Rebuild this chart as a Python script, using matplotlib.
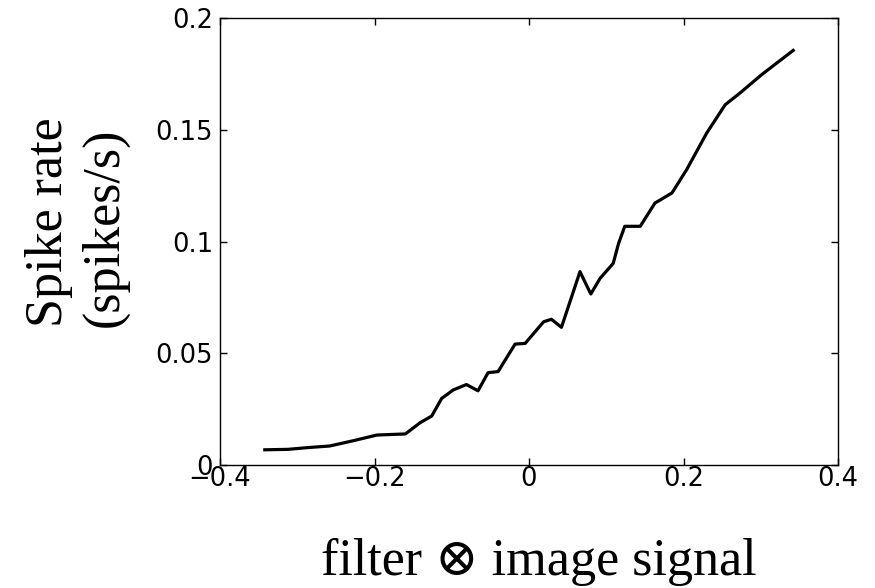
import numpy as np
import matplotlib.pyplot as plt

# wartości
x = [-0.342, -0.312, -0.286, -0.258, -0.227, -0.197, -0.160, -0.141, -0.126,
     -0.113, -0.098, -0.081, -0.066, -0.053, -0.040, -0.018, -0.005, 0.019,
     0.029, 0.042, 0.066, 0.080, 0.092, 0.109, 0.116, 0.124, 0.144, 0.163,
     0.185, 0.204, 0.230, 0.254, 0.273, 0.301, 0.342]
rate = [0.0068, 0.0070, 0.0078, 0.0085, 0.0109, 0.0134, 0.0139, 0.0189, 0.0219,
        0.0298, 0.0336, 0.0360, 0.0332, 0.0413, 0.0418, 0.0541, 0.0544, 0.0641,
        0.0652, 0.0616, 0.0865, 0.0765, 0.0835, 0.0902, 0.0992, 0.1068, 0.1068,
        0.1172, 0.1217, 0.1321, 0.1485, 0.1612, 0.1664, 0.1746, 0.1855]

xticks = [-0.4, -0.2, 0, 0.2, 0.4]
yticks = [0, 0.05, 0.1, 0.15, 0.2]

fig = plt.figure(figsize=(8.75, 5.88), dpi=100)
ax = fig.add_axes([220/875, 1 - 465/588, 618/875, 447/588])

ax.plot(x, rate, color='black', linewidth=2.3)
ax.set_xlim(-0.4, 0.4)
ax.set_ylim(0, 0.2)
ax.set_xticks(xticks)
ax.set_yticks(yticks)
ax.set_xticklabels(['\u22120.4', '\u22120.2', '0', '0.2', '0.4'])
ax.set_yticklabels(['0', '0.05', '0.1', '0.15', '0.2'])
ax.tick_params(direction='in', top=True, right=True, length=5, width=1,
               labelsize=18.5, colors='black')
ax.tick_params(axis='x', pad=1)
ax.tick_params(axis='y', pad=5)
for lab in ax.get_xticklabels() + ax.get_yticklabels():
    lab.set_family('DejaVu Sans')
for s in ax.spines.values():
    s.set_linewidth(1)

fig.text(539/875, 1 - 562/588, 'filter \u2297 image signal', ha='center', va='center',
         fontsize=37.5, family=['Liberation Serif', 'DejaVu Serif'])
fig.text(77/875, 1 - 222/588, 'Spike rate\n(spikes/s)', ha='center', va='center',
         rotation=90, fontsize=37.5, linespacing=1.2, multialignment='left',
         family=['Liberation Serif', 'DejaVu Serif'])

fig.savefig('out.png', dpi=100)
